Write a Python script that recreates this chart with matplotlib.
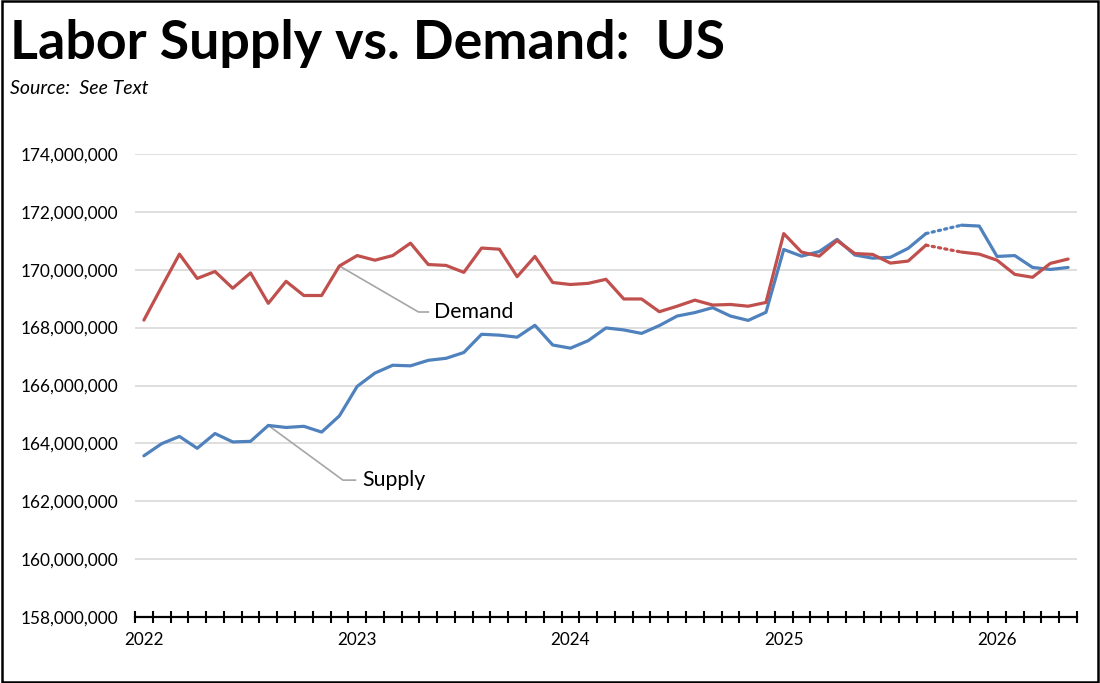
import matplotlib
matplotlib.use("Agg")
import matplotlib.pyplot as plt
import numpy as np
from matplotlib.patches import Rectangle
from matplotlib.ticker import FuncFormatter, FixedLocator

# ---- data (millions of persons), monthly Jan 2022 .. May 2026 ----
year_labels = ["2022", "2023", "2024", "2025", "2026"]
supply = [163.57, 163.99, 164.24, 163.83, 164.34, 164.05, 164.07, 164.62, 164.55, 164.59, 164.39, 164.95,
          165.97, 166.43, 166.70, 166.68, 166.87, 166.94, 167.14, 167.77, 167.74, 167.67, 168.08, 167.40,
          167.29, 167.55, 167.99, 167.92, 167.80, 168.07, 168.40, 168.52, 168.69, 168.40, 168.25, 168.53,
          170.70, 170.47, 170.63, 171.05, 170.51, 170.40, 170.43, 170.74, 171.25, None, 171.54, 171.51,
          170.46, 170.49, 170.08, 170.01, 170.08]
demand = [168.26, 169.41, 170.54, 169.70, 169.94, 169.36, 169.89, 168.84, 169.60, 169.11, 169.11, 170.13,
          170.49, 170.33, 170.49, 170.92, 170.18, 170.15, 169.91, 170.75, 170.71, 169.76, 170.46, 169.56,
          169.49, 169.53, 169.67, 168.99, 168.99, 168.55, 168.74, 168.95, 168.78, 168.80, 168.74, 168.87,
          171.25, 170.61, 170.47, 171.01, 170.56, 170.53, 170.23, 170.30, 170.85, None, 170.61, 170.54,
          170.33, 169.84, 169.74, 170.22, 170.37]

FONT = "Lato"
plt.rcParams["font.family"] = [FONT, "DejaVu Sans"]

BLUE = "#4F81BD"
RED = "#C0504D"
GRID = "#D9D9D9"
LEAD = "#A6A6A6"

n = len(supply)
x = np.arange(n)
s = np.array([np.nan if v is None else v * 1e6 for v in supply])
d = np.array([np.nan if v is None else v * 1e6 for v in demand])

fig = plt.figure(figsize=(11, 6.83), dpi=100)
ax = fig.add_axes([135 / 1100, 66 / 683, 942 / 1100, 463 / 683])

LW = 2.3
ax.plot(x, s, color=BLUE, lw=LW, solid_capstyle="round", solid_joinstyle="round", zorder=3)
ax.plot(x, d, color=RED, lw=LW, solid_capstyle="round", solid_joinstyle="round", zorder=3)

# dotted bridge across the missing month
gap = [i for i in range(n) if supply[i] is None]
for g in gap:
    for arr, col in ((s, BLUE), (d, RED)):
        ax.plot([g - 1, g + 1], [arr[g - 1], arr[g + 1]], color=col, lw=LW,
                linestyle=(0, (0.7, 1.3)), dash_capstyle="round", zorder=3)

ax.set_xlim(-0.5, n - 0.5)
ax.set_ylim(158e6, 174e6)
ax.set_yticks(np.arange(158e6, 174e6 + 1, 2e6))
ax.yaxis.set_major_formatter(FuncFormatter(lambda v, p: f"{int(round(v)):,}"))
ax.grid(axis="y", color=GRID, lw=1.2, zorder=0)
ax.set_axisbelow(True)

for sp in ("left", "right", "top"):
    ax.spines[sp].set_visible(False)
ax.spines["bottom"].set_linewidth(1.6)
ax.spines["bottom"].set_color("black")

year_pos = [12 * i for i in range(len(year_labels))]
ax.set_xticks(year_pos)
ax.set_xticklabels(year_labels)
ax.xaxis.set_minor_locator(FixedLocator(np.arange(-0.5, n, 1.0)))
ax.tick_params(axis="x", which="major", length=0, pad=11, labelsize=12.3, labelcolor="black")
ax.tick_params(axis="x", which="minor", direction="inout", length=8.5, width=1.5, color="black")
ax.tick_params(axis="y", length=0, pad=12, labelsize=12.4, labelcolor="black")

# leader lines & labels
def label(idx, arr, elbow, end, text_x, text):
    ax.plot([idx, elbow[0], end], [arr[idx], elbow[1], elbow[1]], color=LEAD, lw=1.2, zorder=2)
    ax.text(text_x, elbow[1], text, fontsize=15.3, va="center", ha="left", color="black")

label(11, d, (15.45, 168.54e6), 16.0, 16.35, "Demand")
label(7, s, (11.2, 162.73e6), 11.9, 12.3, "Supply")

# titles
fig.text(10 / 1100, 1 - 44 / 683, "Labor Supply vs. Demand:  US", fontsize=38.7, fontweight="bold",
         va="center", ha="left")
fig.text(10 / 1100, 1 - 88 / 683, "Source:  See Text", fontsize=14, style="italic",
         va="center", ha="left")

# outer frame
fig.patches.append(Rectangle((0.0015, 0.002), 0.997, 0.996, transform=fig.transFigure,
                             fill=False, edgecolor="black", lw=1.8))

fig.savefig("out.png", dpi=100)
